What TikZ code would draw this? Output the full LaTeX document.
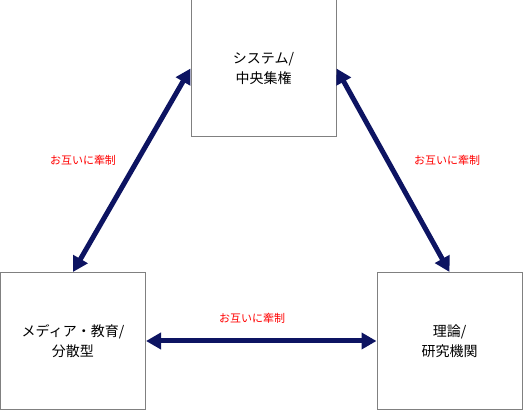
\documentclass[tikz,border=0pt]{standalone}
\usepackage{fontspec}
\setmainfont{Noto Sans CJK JP}
\usetikzlibrary{arrows.meta}
\definecolor{navy}{HTML}{0D1462}
\definecolor{boxgray}{HTML}{808080}
\tikzset{
    box/.style={draw=boxgray,line width=1pt,minimum width=145pt,minimum height=137pt,
        inner sep=0pt,align=center,font=\fontsize{14}{20}\selectfont},
    link/.style={navy,line width=5pt,{Triangle[length=15pt,width=16pt]}-{Triangle[length=15pt,width=16pt]}},
    note/.style={red,font=\fontsize{11}{13}\selectfont}
}
\begin{document}
\begin{tikzpicture}[x=1pt,y=-1pt]
    \useasboundingbox (0,0) rectangle (523,411);
    \node[box] (sys) at (263.5,68.5) {システム/\\中央集権};
    \node[box] (media) at (73,341) {メディア・教育/\\分散型};
    \node[box] (theory) at (449.5,341) {理論/\\研究機関};
    \draw[link] (media.north) -- (sys.west);
    \draw[link] (sys.east) -- (theory.north);
    \draw[link] (media.east) -- (theory.west);
    \node[note] (lnote) at (83,160) {お互いに牽制};
    \node[note] (rnote) at (447,160) {お互いに牽制};
    \node[note] (bnote) at (252,318) {お互いに牽制};
\end{tikzpicture}
\end{document}
